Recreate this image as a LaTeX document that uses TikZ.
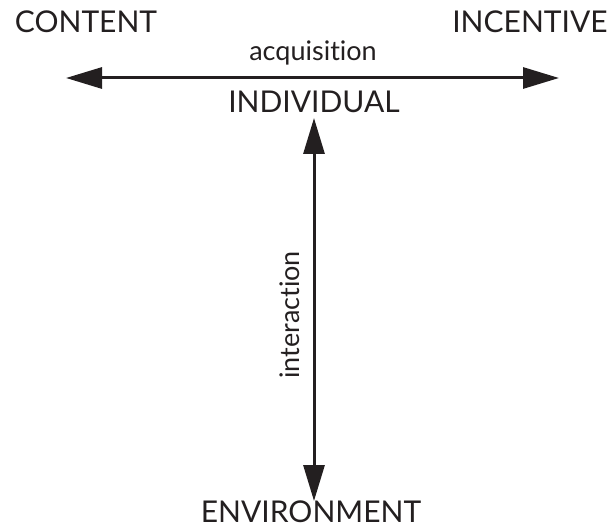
\documentclass[tikz,border=0pt]{standalone}
\usepackage{fontspec}
\setmainfont{Lato}[Ligatures={NoCommon,NoRare}]
\usetikzlibrary{arrows.meta,positioning}

\definecolor{ink}{HTML}{231F20}

\begin{document}
\begin{tikzpicture}[x=1pt,y=-1pt,
    axis/.style={draw=ink,line width=3pt,
      {Triangle[length=36pt,width=21pt]}-{Triangle[length=36pt,width=21pt]}},
    caps/.style={inner sep=0pt,text=ink,font=\fontsize{30}{34}\selectfont},
    lower/.style={inner sep=0pt,text=ink,font=\fontsize{27}{31}\selectfont}]

    \useasboundingbox (0,0) rectangle (610,529);

    % corner words
    \node (content) at (86,22) [caps] {CONTENT};
    \node (incentive) at (530,22) [caps] {INCENTIVE};
    \node (individual) at (314,102) [caps] {INDIVIDUAL};
    \node (environment) at (311,512) [caps] {ENVIRONMENT};

    % the two axes
    \coordinate (acqL) at (66,78);
    \coordinate (acqR) at (559,78);
    \coordinate (intT) at (314,118);
    \coordinate (intB) at (314,501);
    \draw[axis] (acqL) -- (acqR);
    \draw[axis] (intT) -- (intB);

    \node (acquisition) at (313,53) [lower] {acquisition};
    \node (interaction) at (290,315) [lower,rotate=90] {interaction};

\end{tikzpicture}
\end{document}
